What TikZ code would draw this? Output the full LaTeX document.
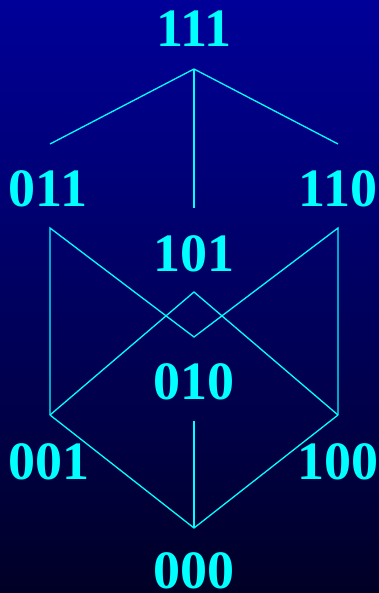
\documentclass[tikz,border=0pt]{standalone}
\usepackage{fontspec}
\setmainfont{Liberation Serif}
\definecolor{bgtop}{RGB}{0,0,153}
\definecolor{bgbot}{RGB}{0,0,38}
\definecolor{cy}{RGB}{0,255,255}
\begin{document}
\begin{tikzpicture}[x=1pt,y=-1pt,
  lbl/.style={text=cy,font=\fontsize{54}{54}\selectfont\bfseries,anchor=base,inner sep=0pt},
  edge/.style={draw=cy,line width=1.3pt,line join=miter}]
\shade[top color=bgtop,bottom color=bgbot] (0,0) rectangle (379,593);
\useasboundingbox (0,0) rectangle (379,593);
% labels
\node[lbl] (n111) at (194,47) {111};
\node[lbl] (n011) at (48,207) {011};
\node[lbl] (n110) at (338,207) {110};
\node[lbl] (n101) at (194,271) {101};
\node[lbl] (n010) at (194,399) {010};
\node[lbl] (n001) at (49,479) {001};
\node[lbl] (n100) at (338,479) {100};
\node[lbl] (n000) at (194,588) {000};
% junction points
\coordinate (t) at (194,69);
\coordinate (tl) at (50,144);
\coordinate (tr) at (338,144);
\coordinate (tm) at (194,208);
\coordinate (ml) at (50,228);
\coordinate (mr) at (338,228);
\coordinate (dt) at (194,292);
\coordinate (db) at (194,337);
\coordinate (bl) at (50,415);
\coordinate (br) at (338,415);
\coordinate (bm) at (194,421);
\coordinate (b) at (194,528);
% edges
\draw[edge] (tl) -- (t) -- (tr);
\draw[edge] (t) -- (tm);
\draw[edge] (bl) -- (ml) -- (db) -- (mr) -- (br);
\draw[edge] (bl) -- (dt) -- (br);
\draw[edge] (bl) -- (b) -- (br);
\draw[edge] (bm) -- (b);
\end{tikzpicture}
\end{document}
